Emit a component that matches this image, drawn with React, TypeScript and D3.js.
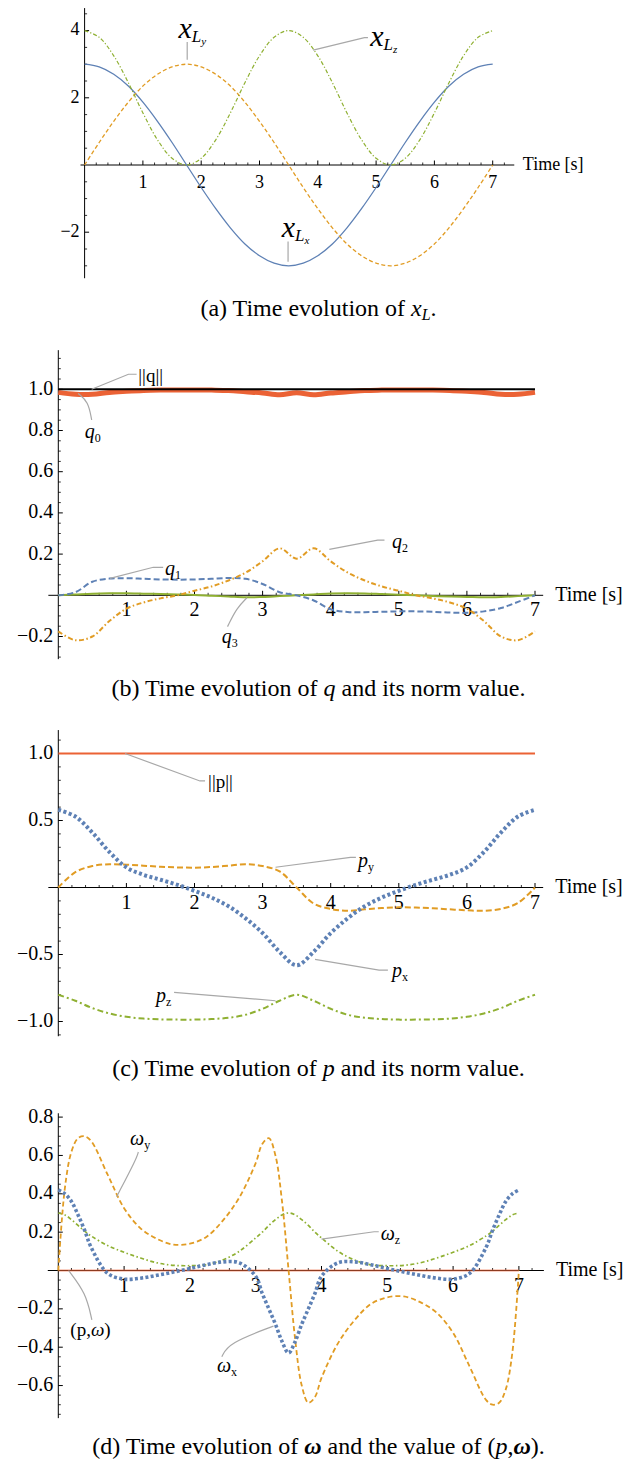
import React from "react";
import * as d3 from "d3";

const W = 637;
const H = 1465;
const FONT = "Liberation Serif";
const BLUE = "#5E81B5";
const ORANGE = "#E19C24";
const GREEN = "#8FB032";
const RED = "#EB6235";
const GRAY = "#A8A8A8";

// ---------- Panel (a): x_L ----------
const tA = [0,0.25,0.5,0.75,1,1.25,1.5,1.75,2,2.25,2.5,2.75,3,3.25,3.5,3.75,4,4.25,4.5,4.75,5,5.25,5.5,5.75,6,6.25,6.5,6.75,7];
const xLx = [3.00,2.92,2.70,2.35,1.87,1.30,0.67,0.00,-0.67,-1.30,-1.87,-2.35,-2.70,-2.92,-3.00,-2.92,-2.70,-2.35,-1.87,-1.30,-0.67,0.00,0.67,1.30,1.87,2.35,2.70,2.92,3.00];
const xLy = [0.00,0.67,1.30,1.87,2.35,2.70,2.92,3.00,2.92,2.70,2.35,1.87,1.30,0.67,0.00,-0.67,-1.30,-1.87,-2.35,-2.70,-2.92,-3.00,-2.92,-2.70,-2.35,-1.87,-1.30,-0.67,0.00];
const xLz = [4.00,3.80,3.25,2.45,1.55,0.75,0.20,0.00,0.20,0.75,1.55,2.45,3.25,3.80,4.00,3.80,3.25,2.45,1.55,0.75,0.20,0.00,0.20,0.75,1.55,2.45,3.25,3.80,4.00];
const xTicks = [1,2,3,4,5,6,7];
const yTicksA = [-2,2,4];

// ---------- Panel (b): q ----------
const tQ = [0,0.25,0.5,0.75,1,1.25,1.5,1.75,2,2.25,2.5,2.75,3,3.25,3.5,3.75,4,4.25,4.5,4.75,5,5.25,5.5,5.75,6,6.25,6.5,6.75,7];
const q0 = [0.985,0.976,0.976,0.985,0.990,0.994,0.996,0.997,0.997,0.996,0.994,0.988,0.982,0.973,0.983,0.973,0.982,0.988,0.994,0.996,0.997,0.997,0.996,0.994,0.990,0.985,0.976,0.976,0.985];
const q1 = [0,0.015,0.066,0.081,0.083,0.080,0.077,0.076,0.077,0.080,0.084,0.080,0.055,0.015,0.000,-0.025,-0.068,-0.081,-0.082,-0.080,-0.078,-0.078,-0.080,-0.084,-0.085,-0.078,-0.062,-0.032,0];
const q2 = [-0.175,-0.218,-0.200,-0.125,-0.065,-0.035,-0.015,0.000,0.022,0.043,0.072,0.110,0.165,0.228,0.178,0.228,0.165,0.110,0.072,0.043,0.022,0.000,-0.015,-0.035,-0.065,-0.125,-0.200,-0.218,-0.175];
const q3 = [0,0.004,0.008,0.010,0.010,0.008,0.006,0.004,0.002,-0.002,-0.006,-0.010,-0.008,-0.004,0,0.004,0.009,0.010,0.009,0.006,0.003,0,-0.003,-0.006,-0.008,-0.010,-0.008,-0.004,0];
const tNorm = [0,7];
const qNorm = [1,1];
const yTicksB = [-0.2,0.2,0.4,0.6,0.8,1.0];

// ---------- Panel (c): p ----------
const tP = [0,0.25,0.5,0.75,1,1.25,1.5,1.75,2,2.25,2.5,2.75,3,3.25,3.5,3.75,4,4.25,4.5,4.75,5,5.25,5.5,5.75,6,6.25,6.5,6.75,7];
const px = [0.580,0.530,0.410,0.265,0.150,0.095,0.058,0.020,-0.025,-0.075,-0.140,-0.230,-0.340,-0.480,-0.580,-0.480,-0.340,-0.230,-0.140,-0.075,-0.025,0.020,0.058,0.095,0.150,0.265,0.410,0.530,0.580];
const py = [0,0.115,0.160,0.174,0.170,0.163,0.155,0.150,0.148,0.153,0.163,0.174,0.160,0.120,0,-0.120,-0.160,-0.174,-0.163,-0.153,-0.148,-0.150,-0.155,-0.163,-0.170,-0.174,-0.160,-0.115,0];
const pz = [-0.800,-0.845,-0.900,-0.940,-0.965,-0.978,-0.984,-0.986,-0.986,-0.982,-0.972,-0.950,-0.905,-0.845,-0.800,-0.845,-0.905,-0.950,-0.972,-0.982,-0.986,-0.986,-0.984,-0.978,-0.965,-0.940,-0.900,-0.845,-0.800];
const pNorm = [1,1];
const yTicksC = [-1.0,-0.5,0.5,1.0];

// ---------- Panel (d): omega ----------
const tW = [0,0.1,0.2,0.3,0.4,0.5,0.75,1,1.25,1.5,1.75,2,2.25,2.5,2.75,3,3.1,3.2,3.3,3.4,3.5,3.6,3.7,3.8,3.9,4,4.25,4.5,4.75,5,5.25,5.5,5.75,6,6.25,6.5,6.6,6.7,6.8,6.9,7];
const wx = [0.42,0.40,0.36,0.29,0.21,0.12,-0.015,-0.045,-0.04,-0.025,-0.008,0.01,0.03,0.045,0.04,-0.03,-0.12,-0.20,-0.28,-0.37,-0.43,-0.37,-0.28,-0.20,-0.12,-0.03,0.04,0.045,0.03,0.01,-0.008,-0.025,-0.04,-0.045,-0.015,0.12,0.21,0.29,0.36,0.40,0.42];
const wy = [0,0.43,0.62,0.69,0.70,0.675,0.50,0.325,0.22,0.165,0.135,0.14,0.175,0.26,0.38,0.56,0.66,0.69,0.60,0.36,0,-0.36,-0.60,-0.69,-0.66,-0.56,-0.38,-0.26,-0.175,-0.14,-0.135,-0.165,-0.22,-0.325,-0.50,-0.675,-0.70,-0.69,-0.62,-0.43,0];
const wz = [0.30,0.29,0.265,0.235,0.205,0.18,0.13,0.095,0.065,0.04,0.027,0.025,0.03,0.055,0.10,0.17,0.20,0.235,0.265,0.29,0.30,0.29,0.265,0.235,0.20,0.17,0.10,0.055,0.03,0.025,0.027,0.04,0.065,0.095,0.13,0.18,0.205,0.235,0.265,0.29,0.30];
const pw = [0,0];
const yTicksD = [-0.6,-0.4,-0.2,0.2,0.4,0.6,0.8];

type Scale = d3.ScaleLinear<number, number>;

interface Series {
  t: number[];
  v: number[];
  color: string;
  width: number;
  dash?: string;
  opacity?: number;
}

interface Callout {
  at: [number, number];
  path: [number, number][];
  curved?: boolean;
  label: React.ReactNode;
  size: number;
}

interface PanelSpec {
  x: Scale;
  y: Scale;
  xExt: [number, number];
  yExt: [number, number];
  yMinor: number;
  yMajorTicks: number[];
  yFmt: (v: number) => string;
  tickFont: number;
  xLabelDy: number;
  timeFont: number;
  timeGap: number;
  series: Series[];
  callouts: Callout[];
}

const fmt1 = d3.format(".1f");
const fmt0 = d3.format("d");

function Panel({ p }: { p: PanelSpec }) {
  const { x, y } = p;
  const x0 = x(p.xExt[0]);
  const x1 = x(p.xExt[1]);
  const yTop = y(p.yExt[1]);
  const yBot = y(p.yExt[0]);
  const ax = x(0);
  const ay = y(0);

  const xMinor: number[] = [];
  for (let k = 1; k * 0.2 <= p.xExt[1] + 1e-9; k++) {
    if (k % 5 !== 0) xMinor.push(k * 0.2);
  }
  const yMinor: number[] = [];
  const kLo = Math.ceil(p.yExt[0] / p.yMinor - 1e-9);
  const kHi = Math.floor(p.yExt[1] / p.yMinor + 1e-9);
  for (let k = kLo; k <= kHi; k++) {
    const v = k * p.yMinor;
    if (k === 0) continue;
    if (p.yMajorTicks.some((m) => Math.abs(m - v) < 1e-9)) continue;
    yMinor.push(v);
  }

  const lineGen = (s: Series) =>
    d3
      .line<number>()
      .x((_, i) => x(s.t[i]))
      .y((d) => y(d))
      .curve(d3.curveCatmullRom.alpha(0.5))(s.v) || "";

  return (
    <g>
      <line x1={x0} x2={x1} y1={ay} y2={ay} stroke="#000" strokeWidth={1} />
      <line x1={ax} x2={ax} y1={yTop} y2={yBot} stroke="#000" strokeWidth={1} />
      {xTicks.map((t) => (
        <line key={"xM" + t} x1={x(t)} x2={x(t)} y1={ay} y2={ay - 4.5} stroke="#000" strokeWidth={1} />
      ))}
      {xMinor.map((t) => (
        <line key={"xm" + t} x1={x(t)} x2={x(t)} y1={ay} y2={ay - 2.5} stroke="#000" strokeWidth={0.8} />
      ))}
      {p.yMajorTicks.map((v) => (
        <line key={"yM" + v} x1={ax} x2={ax + 4.5} y1={y(v)} y2={y(v)} stroke="#000" strokeWidth={1} />
      ))}
      {yMinor.map((v) => (
        <line key={"ym" + v} x1={ax} x2={ax + 2.5} y1={y(v)} y2={y(v)} stroke="#000" strokeWidth={0.8} />
      ))}
      {xTicks.map((t) => (
        <text key={"xl" + t} x={x(t)} y={ay + p.xLabelDy} fontSize={p.tickFont} textAnchor="middle" fontFamily={FONT}>
          {fmt0(t)}
        </text>
      ))}
      {p.yMajorTicks.map((v) => (
        <text key={"yl" + v} x={ax - 5} y={y(v) + p.tickFont * 0.27} fontSize={p.tickFont} textAnchor="end" fontFamily={FONT}>
          {p.yFmt(v)}
        </text>
      ))}
      <text x={x1 + p.timeGap} y={ay + p.timeFont * 0.28} fontSize={p.timeFont} fontFamily={FONT}>
        Time [s]
      </text>
      {p.series.map((s, i) => (
        <path
          key={"s" + i}
          d={lineGen(s)}
          fill="none"
          stroke={s.color}
          strokeWidth={s.width}
          strokeDasharray={s.dash}
          strokeOpacity={s.opacity ?? 1}
          strokeLinejoin="round"
        />
      ))}
      {p.callouts.map((c, i) => (
        <g key={"c" + i}>
          <path
            d={
              d3
                .line<[number, number]>()
                .x((d) => x(d[0]))
                .y((d) => y(d[1]))
                .curve(c.curved ? d3.curveBasis : d3.curveLinear)(c.path) || ""
            }
            fill="none"
            stroke={GRAY}
            strokeWidth={1.2}
          />
          <text x={x(c.at[0])} y={y(c.at[1])} fontSize={c.size} fontFamily={FONT} fill="#000">
            {c.label}
          </text>
        </g>
      ))}
    </g>
  );
}

const it = (s: string, extra: any = {}) => (
  <tspan fontStyle="italic" {...extra}>
    {s}
  </tspan>
);

function sub(base: string, s: string, baseSize: number, subSize: number, dy: number) {
  return (
    <>
      <tspan fontStyle="italic" fontSize={baseSize}>{base}</tspan>
      <tspan fontSize={subSize} dy={dy}>{s}</tspan>
    </>
  );
}

function xL(s: string) {
  return (
    <>
      <tspan fontStyle="italic" fontSize={30}>x</tspan>
      <tspan fontStyle="italic" fontSize={17} dy={3.5}>L</tspan>
      <tspan fontStyle="italic" fontSize={11} dy={3}>{s}</tspan>
    </>
  );
}

const xAs = d3.scaleLinear().domain([0, 7]).range([84.6, 492.7]);
const yAs = d3.scaleLinear().domain([0, 4]).range([165, 30.6]);
const xBs = d3.scaleLinear().domain([0, 7]).range([58.3, 535]);
const yBs = d3.scaleLinear().domain([0, 1]).range([595.3, 389.3]);
const xCs = d3.scaleLinear().domain([0, 7]).range([58.3, 535]);
const yCs = d3.scaleLinear().domain([0, 1]).range([887.5, 753.5]);
const xDs = d3.scaleLinear().domain([0, 7]).range([58.3, 518.9]);
const yDs = d3.scaleLinear().domain([0, 0.8]).range([1270.5, 1117.1]);

const panelA: PanelSpec = {
  x: xAs,
  y: yAs,
  xExt: [-0.07, 7.37],
  yExt: [-3.37, 4.67],
  yMinor: 0.5,
  yMajorTicks: yTicksA,
  yFmt: (v) => fmt0(v),
  tickFont: 18,
  xLabelDy: 23,
  timeFont: 18,
  timeGap: 8.5,
  series: [
    { t: tA, v: xLx, color: BLUE, width: 1.3 },
    { t: tA, v: xLy, color: ORANGE, width: 1.3, dash: "4,2.5" },
    { t: tA, v: xLz, color: GREEN, width: 1.2, dash: "4,2,1.2,2" },
  ],
  callouts: [
    { at: [1.61, 3.77], path: [[1.76, 3.66], [1.76, 3.13]], label: xL("y"), size: 30 },
    { at: [4.9, 3.54], path: [[3.92, 3.42], [4.8, 3.79], [4.86, 3.79]], label: xL("z"), size: 30 },
    { at: [3.38, -2.15], path: [[3.49, -2.28], [3.49, -2.88]], label: xL("x"), size: 30 },
  ],
};

const panelB: PanelSpec = {
  x: xBs,
  y: yBs,
  xExt: [-0.146, 7.12],
  yExt: [-0.31, 1.19],
  yMinor: 0.05,
  yMajorTicks: yTicksB,
  yFmt: (v) => fmt1(v),
  tickFont: 20,
  xLabelDy: 21,
  timeFont: 20,
  timeGap: 12,
  series: [
    { t: tQ, v: q0, color: RED, width: 5 },
    { t: tQ, v: q3, color: GREEN, width: 2 },
    { t: tQ, v: q1, color: BLUE, width: 2, dash: "6,3" },
    { t: tQ, v: q2, color: ORANGE, width: 2, dash: "5,2.5,1.5,2.5" },
    { t: tNorm, v: qNorm, color: "#000", width: 2 },
  ],
  callouts: [
    { at: [1.175, 1.035], path: [[0.49, 1.0], [1.03, 1.073], [1.15, 1.073]], label: "||q||", size: 19 },
    { at: [0.39, 0.762], path: [[0.29, 0.98], [0.44, 0.94], [0.49, 0.851]], curved: true, label: sub("q", "0", 20, 12, 4), size: 20 },
    { at: [1.567, 0.0985], path: [[0.76, 0.0825], [1.395, 0.136], [1.54, 0.136]], label: sub("q", "1", 20, 12, 4), size: 20 },
    { at: [4.9, 0.228], path: [[3.98, 0.223], [4.69, 0.268], [4.79, 0.268]], label: sub("q", "2", 20, 12, 4), size: 20 },
    { at: [2.4, -0.233], path: [[2.77, -0.012], [2.62, -0.062], [2.485, -0.152]], curved: true, label: sub("q", "3", 20, 12, 4), size: 20 },
  ],
};

const panelC: PanelSpec = {
  x: xCs,
  y: yCs,
  xExt: [-0.146, 7.12],
  yExt: [-1.11, 1.175],
  yMinor: 0.1,
  yMajorTicks: yTicksC,
  yFmt: (v) => fmt1(v),
  tickFont: 20,
  xLabelDy: 21,
  timeFont: 20,
  timeGap: 12,
  series: [
    { t: tNorm, v: pNorm, color: RED, width: 2 },
    { t: tP, v: pz, color: GREEN, width: 2, dash: "6,3,2,3" },
    { t: tP, v: py, color: ORANGE, width: 2, dash: "6,3" },
    { t: tP, v: px, color: BLUE, width: 4, dash: "3,2.5" },
  ],
  callouts: [
    { at: [2.2, 0.743], path: [[0.98, 1.0], [2.08, 0.795], [2.155, 0.795]], label: "||p||", size: 19 },
    { at: [4.4, 0.155], path: [[3.19, 0.151], [4.29, 0.225], [4.37, 0.225]], label: sub("p", "y", 20, 12, 4), size: 20 },
    { at: [4.9, -0.666], path: [[3.77, -0.536], [4.71, -0.616], [4.84, -0.616]], label: sub("p", "x", 20, 12, 4), size: 20 },
    { at: [1.435, -0.852], path: [[1.7, -0.782], [3.19, -0.845]], label: sub("p", "z", 20, 12, 4), size: 20 },
  ],
};

const panelD: PanelSpec = {
  x: xDs,
  y: yDs,
  xExt: [-0.16, 7.38],
  yExt: [-0.77, 0.82],
  yMinor: 0.05,
  yMajorTicks: yTicksD,
  yFmt: (v) => fmt1(v),
  tickFont: 20,
  xLabelDy: 21,
  timeFont: 20,
  timeGap: 12,
  series: [
    { t: tNorm, v: pw, color: RED, width: 2, opacity: 0.6 },
    { t: tW, v: wz, color: GREEN, width: 1.7, dash: "4,2.5,1.5,2.5" },
    { t: tW, v: wy, color: ORANGE, width: 1.8, dash: "5,3" },
    { t: tW, v: wx, color: BLUE, width: 3.6, dash: "3,2.3" },
  ],
  callouts: [
    { at: [1.09, 0.655], path: [[0.887, 0.385], [1.19, 0.585], [1.216, 0.618]], curved: true, label: sub("ω", "y", 20, 12, 4), size: 20 },
    { at: [4.9, 0.159], path: [[4.0, 0.164], [4.8, 0.202], [4.87, 0.202]], label: sub("ω", "z", 20, 12, 4), size: 20 },
    { at: [0.183, -0.34], path: [[0.157, 0], [0.42, -0.118], [0.51, -0.258]], curved: true, label: <>(p,{it("ω")})</>, size: 19 },
    { at: [2.41, -0.53], path: [[3.27, -0.29], [2.59, -0.378], [2.485, -0.45]], curved: true, label: sub("ω", "x", 20, 12, 4), size: 20 },
  ],
};

const CAP = 24;
const bw = { fontWeight: "bold", fontStyle: "italic" } as any;

export default function App() {
  return (
    <svg width={W} height={H} style={{ position: "absolute", left: 0, top: 0, background: "#fff" }}>
      <rect x={0} y={0} width={W} height={H} fill="#fff" />
      <Panel p={panelA} />
      <Panel p={panelB} />
      <Panel p={panelC} />
      <Panel p={panelD} />
      <g fontFamily={FONT}>
        <text x={318.5} y={316} fontSize={CAP} textAnchor="middle" fontFamily={FONT}>
          (a) Time evolution of {it("x")}
          <tspan fontStyle="italic" fontSize={16} dy={4}>L</tspan>
          <tspan dy={-4}>.</tspan>
        </text>
        <text x={318.5} y={696} fontSize={CAP} textAnchor="middle" fontFamily={FONT}>
          (b) Time evolution of {it("q")} and its norm value.
        </text>
        <text x={318.5} y={1076} fontSize={CAP} textAnchor="middle" fontFamily={FONT}>
          (c) Time evolution of {it("p")} and its norm value.
        </text>
        <text x={318.5} y={1454} fontSize={CAP} textAnchor="middle" fontFamily={FONT}>
          (d) Time evolution of <tspan {...bw}>ω</tspan> and the value of ({it("p")},
          <tspan {...bw}>ω</tspan>).
        </text>
      </g>
    </svg>
  );
}
